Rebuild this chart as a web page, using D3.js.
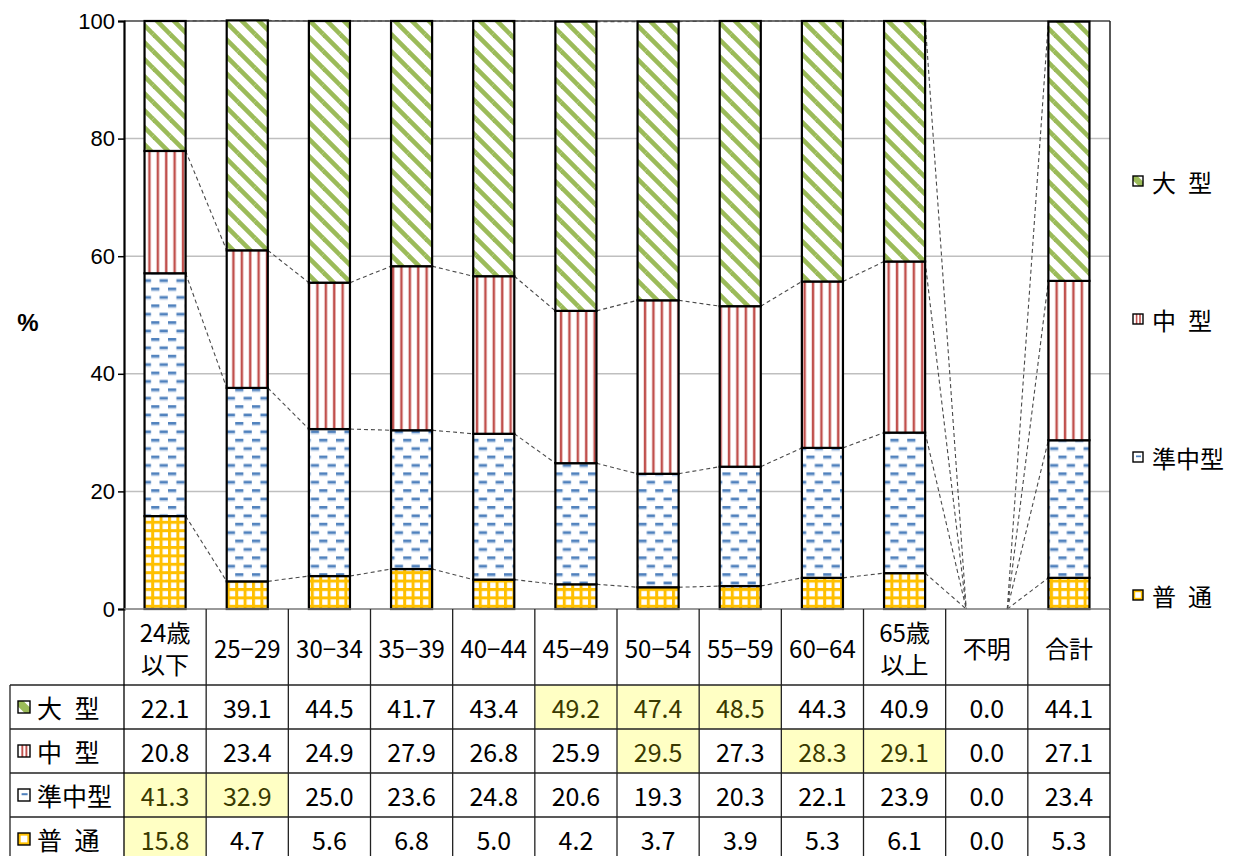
<!DOCTYPE html>
<html><head><meta charset="utf-8">
<script src="https://cdn.jsdelivr.net/npm/d3@7"></script>
<style>body{margin:0;background:#fff}svg{display:block}</style>
</head><body><svg id="c" width="1233" height="856"></svg>
<script>
// ---------------- data ----------------
const categories = ["24歳\n以下","25−29","30−34","35−39","40−44","45−49","50−54","55−59","60−64","65歳\n以上","不明","合計"];
const seriesLabels = ["大\u2002型","中\u2002型","準中型","普\u2002通"];
const ogata      = [22.1,39.1,44.5,41.7,43.4,49.2,47.4,48.5,44.3,40.9,0.0,44.1];
const chugata    = [20.8,23.4,24.9,27.9,26.8,25.9,29.5,27.3,28.3,29.1,0.0,27.1];
const junchugata = [41.3,32.9,25.0,23.6,24.8,20.6,19.3,20.3,22.1,23.9,0.0,23.4];
const futsu      = [15.8,4.7,5.6,6.8,5.0,4.2,3.7,3.9,5.3,6.1,0.0,5.3];
const yTicks = [0,20,40,60,80,100];
// highlighted table cells (column indexes) per series
const hiOgata = [5,6,7];
const hiChugata = [6,8,9];
const hiJunchugata = [0,1];
const hiFutsu = [0];

// ---------------- layout ----------------
const svg = d3.select("#c");
const L = 124, R = 1110, T = 21, B = 609;
const FONT_NUM = "'Liberation Sans', Arial, sans-serif";
const FONT_JP = "'Noto Sans CJK JP', 'Noto Sans', sans-serif";
const idx = d3.range(categories.length);

const x = d3.scaleBand().domain(idx).range([L, R]).paddingInner(0.5).paddingOuter(0.25);
const col = d3.scaleBand().domain(idx).range([L, R]);
const y = d3.scaleLinear().domain([0, 100]).range([B, T]);

const GREEN = "#9BBB59", RED = "#C0504D", BLUE = "#4F81BD", YEL = "#FFC000";

// ---------------- patterns ----------------
const defs = svg.append("defs");
const GW = 17, GH = 17;
const pg = defs.append("pattern").attr("id","pGreen").attr("patternUnits","userSpaceOnUse")
  .attr("width",GW).attr("height",GH);
pg.append("rect").attr("width",GW).attr("height",GH).attr("fill","#fff");
[[-GW,-GH],[0,0],[GW,GH],[-GW,0],[0,-GH],[0,GH],[GW,0]].forEach(([dx,dy])=>{
  pg.append("line").attr("x1",dx).attr("y1",dy).attr("x2",dx+GW).attr("y2",dy+GH)
    .attr("stroke",GREEN).attr("stroke-width",4.6);
});
const pr = defs.append("pattern").attr("id","pRed").attr("patternUnits","userSpaceOnUse")
  .attr("width",8.4).attr("height",10);
pr.append("rect").attr("width",8.4).attr("height",10).attr("fill","#fff");
pr.append("rect").attr("x",6.6).attr("width",2.4).attr("height",10).attr("fill","#f2d4d3");
pr.append("rect").attr("x",5.4).attr("width",2.3).attr("height",10).attr("fill",RED);
const pb = defs.append("pattern").attr("id","pBlue").attr("patternUnits","userSpaceOnUse")
  .attr("width",16.8).attr("height",16.8);
pb.append("rect").attr("width",16.8).attr("height",16.8).attr("fill","#fff");
[[0,2],[8.4,10.4]].forEach(([dx,dy])=>{
  pb.append("rect").attr("x",dx).attr("y",dy+2.4).attr("width",8.2).attr("height",1.6).attr("fill","#cddbee");
  pb.append("rect").attr("x",dx).attr("y",dy).attr("width",8.2).attr("height",2.6).attr("fill",BLUE);
});
const py = defs.append("pattern").attr("id","pYel").attr("patternUnits","userSpaceOnUse")
  .attr("width",8.4).attr("height",8.4);
py.append("rect").attr("width",8.4).attr("height",8.4).attr("fill","#fff");
py.append("rect").attr("x",0).attr("y",0).attr("width",3).attr("height",8.4).attr("fill",YEL);
py.append("rect").attr("x",0).attr("y",0).attr("width",8.4).attr("height",3).attr("fill",YEL);

// ---------------- stacking ----------------
const rows = idx.map(i => ({i, futsu: futsu[i], junchugata: junchugata[i], chugata: chugata[i], ogata: ogata[i]}));
const keys = ["futsu","junchugata","chugata","ogata"];
const fills = {futsu:"url(#pYel)", junchugata:"url(#pBlue)", chugata:"url(#pRed)", ogata:"url(#pGreen)"};
const stacked = d3.stack().keys(keys)(rows);

// gridlines
svg.append("g").selectAll("line").data(yTicks.filter(t => t > 0 && t < 100)).join("line")
  .attr("x1", L).attr("x2", R).attr("y1", d => y(d)).attr("y2", d => y(d))
  .attr("stroke", "#BFBFBF").attr("stroke-width", 1.5);

// plot border top / right
svg.append("line").attr("x1",L).attr("x2",R).attr("y1",y(100)).attr("y2",y(100)).attr("stroke","#404040").attr("stroke-width",1.5);
svg.append("line").attr("x1",R).attr("x2",R).attr("y1",y(100)).attr("y2",B).attr("stroke","#202020").attr("stroke-width",1.5);

// series lines
const sl = svg.append("g").attr("fill","none").attr("stroke","#4a4a4a").attr("stroke-width",1.1).attr("stroke-dasharray","4,3");
stacked.forEach(layer => {
  for (let i = 0; i < idx.length - 1; i++) {
    sl.append("line")
      .attr("x1", x(i) + x.bandwidth()).attr("y1", y(layer[i][1]))
      .attr("x2", x(i + 1)).attr("y2", y(layer[i + 1][1]));
  }
});

// bars
stacked.forEach(layer => {
  svg.append("g").selectAll("rect").data(layer.filter(d => d[1] - d[0] > 0)).join("rect")
    .attr("x", d => x(d.data.i)).attr("width", x.bandwidth())
    .attr("y", d => y(d[1])).attr("height", d => y(d[0]) - y(d[1]))
    .attr("fill", fills[layer.key]).attr("stroke", "#000").attr("stroke-width", 2.2);
});

// y axis
const ya = svg.append("g").attr("transform", `translate(${L},0)`)
  .call(d3.axisLeft(y).tickValues(yTicks).tickSize(6).tickPadding(3));
ya.select(".domain").attr("stroke","#000").attr("stroke-width",2.2);
ya.selectAll(".tick line").attr("stroke","#000").attr("stroke-width",1.5);
ya.selectAll(".tick text").attr("font-family", FONT_NUM).attr("font-size", 22).attr("fill","#000");
svg.append("text").attr("x", 28).attr("y", 322).attr("text-anchor","middle").attr("dominant-baseline","central")
  .attr("font-family", FONT_NUM).attr("font-size", 24).attr("font-weight","bold").text("%");

// ---------------- icons ----------------
function icon(g, key, cx, cy, s) {
  const x0 = cx - s/2, y0 = cy - s/2;
  const gg = g.append("g");
  gg.append("rect").attr("x",x0).attr("y",y0).attr("width",s).attr("height",s).attr("fill","#fff");
  if (key === "ogata") {
    gg.append("polygon").attr("points",`${x0},${y0} ${x0+s*0.45},${y0} ${x0+s},${y0+s*0.55} ${x0+s},${y0+s} ${x0+s*0.55},${y0+s} ${x0},${y0+s*0.45}`).attr("fill",GREEN);
  } else if (key === "chugata") {
    gg.append("rect").attr("x",x0+s*0.28).attr("y",y0).attr("width",s*0.16).attr("height",s).attr("fill",RED);
    gg.append("rect").attr("x",x0+s*0.62).attr("y",y0).attr("width",s*0.16).attr("height",s).attr("fill",RED);
  } else if (key === "junchugata") {
    gg.append("rect").attr("x",x0+s*0.3).attr("y",y0+s*0.35).attr("width",s*0.5).attr("height",s*0.17).attr("fill",BLUE);
  } else {
    gg.append("rect").attr("x",x0).attr("y",y0).attr("width",s).attr("height",s).attr("fill",YEL);
    gg.append("rect").attr("x",x0+s*0.22).attr("y",y0+s*0.22).attr("width",s*0.56).attr("height",s*0.56).attr("fill","#fff");
  }
  gg.append("rect").attr("x",x0).attr("y",y0).attr("width",s).attr("height",s).attr("fill","none").attr("stroke","#000").attr("stroke-width",1.4);
}

// ---------------- legend ----------------
const legendKeys = ["ogata","chugata","junchugata","futsu"];
const legY = d3.scalePoint().domain(legendKeys).range([181, 595]);
const lg = svg.append("g");
legendKeys.forEach((k, j) => {
  icon(lg, k, 1138, legY(k), 10);
  lg.append("text").attr("x", 1152).attr("y", legY(k)).attr("dominant-baseline","central")
    .attr("font-family", FONT_JP).attr("font-size", 24).attr("fill","#000").text(seriesLabels[j]);
});

// ---------------- data table ----------------
const tg = svg.append("g");
const HEAD_T = B, HEAD_B = 685, ROW_H = 44;
const tableSeries = [ogata, chugata, junchugata, futsu];
const tableHi = [hiOgata, hiChugata, hiJunchugata, hiFutsu];
const rowY = d3.scaleBand().domain(legendKeys).range([HEAD_B, HEAD_B + ROW_H * 4]);

legendKeys.forEach((k, r) => {
  tableHi[r].forEach(ci => {
    tg.append("rect").attr("x", col(ci)).attr("y", rowY(k)).attr("width", col.bandwidth()).attr("height", rowY.bandwidth())
      .attr("fill", "#FFFFC4");
  });
});

const LINE = "#222";
tg.append("line").attr("x1",L).attr("x2",R).attr("y1",HEAD_T).attr("y2",HEAD_T).attr("stroke","#777").attr("stroke-width",1.5);
tg.append("line").attr("x1",10).attr("x2",R).attr("y1",HEAD_B).attr("y2",HEAD_B).attr("stroke",LINE).attr("stroke-width",1.3);
legendKeys.forEach(k => {
  tg.append("line").attr("x1",10).attr("x2",R).attr("y1",rowY(k)+rowY.bandwidth()).attr("y2",rowY(k)+rowY.bandwidth())
    .attr("stroke",LINE).attr("stroke-width",1.3);
});
tg.append("line").attr("x1",10).attr("x2",10).attr("y1",HEAD_B).attr("y2",856).attr("stroke",LINE).attr("stroke-width",1.3);
idx.concat([idx.length]).forEach(ci => {
  const xx = ci < idx.length ? col(ci) : R;
  tg.append("line").attr("x1",xx).attr("x2",xx).attr("y1",HEAD_T).attr("y2",856)
    .attr("stroke", ci === 0 || ci === idx.length ? "#000" : LINE).attr("stroke-width",1.3);
});

idx.forEach(ci => {
  const lines = categories[ci].split("\n");
  const cx = col(ci) + col.bandwidth() / 2;
  const cy = (HEAD_T + HEAD_B) / 2;
  lines.forEach((t, li) => {
    tg.append("text").attr("x", cx).attr("y", cy + (li - (lines.length - 1) / 2) * 32)
      .attr("text-anchor","middle").attr("dominant-baseline","central")
      .attr("font-family", FONT_JP).attr("font-size", 24).attr("fill","#000").text(t);
  });
});

legendKeys.forEach((k, r) => {
  const cy = rowY(k) + rowY.bandwidth() / 2;
  icon(tg, k, 24, cy, 12);
  tg.append("text").attr("x", 37).attr("y", cy).attr("dominant-baseline","central")
    .attr("font-family", FONT_JP).attr("font-size", 25).attr("fill","#000").text(seriesLabels[r]);
  tableSeries[r].forEach((v, ci) => {
    const hi = tableHi[r].includes(ci);
    tg.append("text").attr("x", col(ci) + col.bandwidth() / 2).attr("y", cy)
      .attr("text-anchor","middle").attr("dominant-baseline","central")
      .attr("font-family", FONT_JP).attr("font-size", 25)
      .attr("fill", hi ? "#3a3a00" : "#000").text(d3.format(".1f")(v));
  });
});
</script>
</body></html>
